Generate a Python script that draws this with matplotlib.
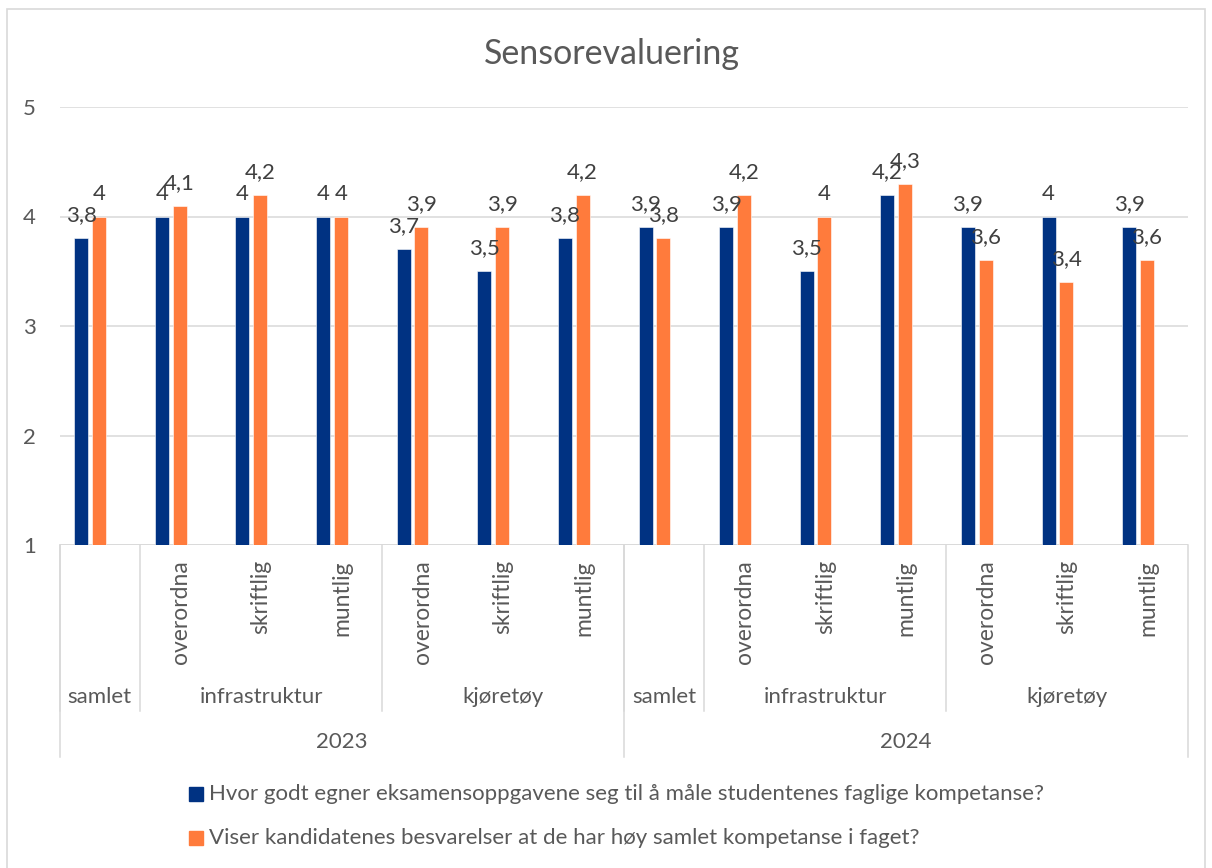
import numpy as np
import matplotlib
matplotlib.use("Agg")
import matplotlib.pyplot as plt
from matplotlib.patches import Rectangle

plt.rcParams['font.family'] = ['Lato', 'DejaVu Sans']

# Category levels (one entry per column of bars)
years = ["2023"] * 7 + ["2024"] * 7
groups = (["samlet"] + ["infrastruktur"] * 3 + ["kjøretøy"] * 3) * 2
subs = (["", "overordna", "skriftlig", "muntlig", "overordna", "skriftlig", "muntlig"]) * 2

# Series values
q1 = [3.8, 4, 4, 4, 3.7, 3.5, 3.8, 3.9, 3.9, 3.5, 4.2, 3.9, 4, 3.9]
q2 = [4, 4.1, 4.2, 4, 3.9, 3.9, 4.2, 3.8, 4.2, 4, 4.3, 3.6, 3.4, 3.6]
series_names = [
    "Hvor godt egner eksamensoppgavene seg til å måle studentenes faglige kompetanse?",
    "Viser kandidatenes besvarelser at de har høy samlet kompetanse i faget?",
]
yticks = [1, 2, 3, 4, 5]

navy = "#003282"
orange = "#FF7B3C"
grid_c = "#D9D9D9"
txt_c = "#595959"
lab_c = "#404040"
fs = 16

W, H = 1212, 868
fig = plt.figure(figsize=(W / 100, H / 100), dpi=100)

# plot area in pixels
x0, x1, ytop, ybot = 59.5, 1188, 107, 545
ax = fig.add_axes([x0 / W, 1 - ybot / H, (x1 - x0) / W, (ybot - ytop) / H])
ax_h = ybot - ytop

def fx(px):
    return px / W

def fy(py):
    return 1 - py / H

n = len(q1)
idx = np.arange(n)
bw = 0.174
b1 = ax.bar(idx + 0.27, np.array(q1) - 1, bw, bottom=1, color=navy,
            edgecolor="white", linewidth=0.4, zorder=3)
b2 = ax.bar(idx + 0.49, np.array(q2) - 1, bw, bottom=1, color=orange,
            edgecolor="white", linewidth=0.4, zorder=3)

def fmt(v):
    return f"{v:g}".replace(".", ",")

for bars, vals in ((b1, q1), (b2, q2)):
    for r, v in zip(bars, vals):
        ax.annotate(fmt(v), (r.get_x() + r.get_width() / 2, v),
                    xytext=(0, 12.2), textcoords="offset points",
                    ha="center", va="baseline", fontsize=fs, color=lab_c, zorder=4)

ax.set_xlim(0, n)
ax.set_ylim(1, 5)
ax.set_yticks(yticks)
ax.set_yticklabels([str(t) for t in yticks], fontsize=fs, color=txt_c)
ax.tick_params(axis="y", length=0, pad=17)
ax.tick_params(axis="x", length=0, labelbottom=False)
ax.grid(axis="y", color=grid_c, linewidth=1.1, zorder=0)
for s in ax.spines.values():
    s.set_visible(False)
ax.axhline(1, color=grid_c, linewidth=1.1, zorder=2)

# multi-level category axis
tr = ax.get_xaxis_transform()

def below(px):
    return -px / ax_h

for i, s in enumerate(subs):
    if s:
        ax.text(i + 0.5, below(15), s, rotation=90, ha="center", va="top",
                fontsize=fs + 0.5, color=txt_c, transform=tr)

def spans(labels):
    out = []
    start = 0
    for i in range(1, n + 1):
        if i == n or labels[i] != labels[start] or years[i] != years[start]:
            out.append((start, i, labels[start]))
            start = i
    return out

for a, b, lab in spans(groups):
    ax.text((a + b) / 2, below(152), lab, ha="center", va="center",
            fontsize=fs, color=txt_c, transform=tr)
    ax.plot([a, a], [0, below(166)], color=grid_c, lw=1.1, transform=tr, clip_on=False)

for a, b, lab in spans(years):
    ax.text((a + b) / 2, below(197), lab, ha="center", va="center",
            fontsize=fs, color=txt_c, transform=tr)
    ax.plot([a, a], [0, below(212)], color=grid_c, lw=1.1, transform=tr, clip_on=False)
ax.plot([n, n], [0, below(212)], color=grid_c, lw=1.1, transform=tr, clip_on=False)

# title
fig.text(fx(612), fy(54), "Sensorevaluering", ha="center", va="center",
         fontsize=24.5, color=txt_c)

# legend
for k, (name, col) in enumerate(zip(series_names, [navy, orange])):
    yc = 794 + k * 44
    fig.patches.append(Rectangle((fx(189), fy(yc + 7)), fx(14), 14 / H,
                                 transform=fig.transFigure, color=col))
    fig.text(fx(209), fy(yc), name, ha="left", va="center", fontsize=fs, color=txt_c)

# outer chart border
fig.patches.append(Rectangle((fx(7), fy(880)), fx(1198), 871 / H,
                             transform=fig.transFigure, fill=False,
                             edgecolor=grid_c, linewidth=1.2))

fig.savefig("out.png", dpi=100)
